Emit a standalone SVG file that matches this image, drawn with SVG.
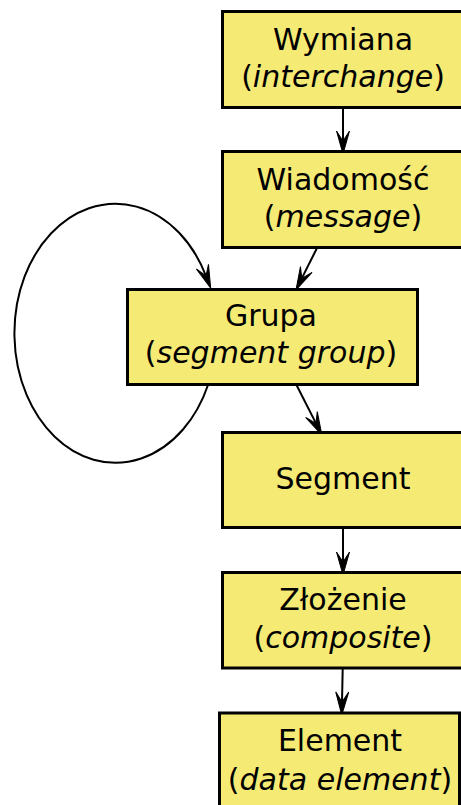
<svg xmlns="http://www.w3.org/2000/svg" width="461" height="805" viewBox="0 0 461 805">
<style>
.box{fill:#f5ea74;stroke:#000;stroke-width:3}
.t{font-family:"DejaVu Sans",sans-serif;font-size:30px;fill:#000;text-anchor:middle}
.i{font-style:italic}
.e{fill:none;stroke:#000;stroke-width:2;marker-end:url(#ah)}
</style>
<defs>
<marker id="ah" markerUnits="userSpaceOnUse" markerWidth="26" markerHeight="16" viewBox="-11 -8 26 16" refX="0" refY="0" orient="auto">
<path d="M13,0 L-10,-6.5 L0,0 L-10,6.5 z" fill="#000" stroke="#000" stroke-width="1"/>
</marker>
</defs>
<rect width="461" height="805" fill="#fff"/>
<g id="edges">
<path class="e" d="M343,107 L343,141"/>
<path class="e" d="M317,248 L301.8,278.4"/>
<path class="e" d="M296.5,385 L316,423.4"/>
<path class="e" d="M343,527 L343,562"/>
<path class="e" d="M342.7,668 L342,702"/>
<path class="e" d="M208,385 A101,129.5 0 1 1 206,276"/>
</g>
<g id="wymiana">
<rect class="box" x="222.5" y="11.5" width="242" height="96"/>
<text class="t" x="343" y="50">Wymiana</text>
<text class="t" x="343" y="87">(<tspan class="i">interchange</tspan>)</text>
</g>
<g id="wiadomosc">
<rect class="box" x="222.5" y="151.5" width="242" height="96"/>
<text class="t" x="343" y="190">Wiadomość</text>
<text class="t" x="343" y="227">(<tspan class="i">message</tspan>)</text>
</g>
<g id="grupa">
<rect class="box" x="127.5" y="289.5" width="290" height="95"/>
<text class="t" x="271" y="326">Grupa</text>
<text class="t" x="271" y="363">(<tspan class="i">segment group</tspan>)</text>
</g>
<g id="segment">
<rect class="box" x="222.5" y="432.5" width="242" height="95"/>
<text class="t" x="343" y="489">Segment</text>
</g>
<g id="zlozenie">
<rect class="box" x="222.5" y="572.5" width="242" height="95.5"/>
<text class="t" x="343" y="610">Złożenie</text>
<text class="t" x="343" y="648">(<tspan class="i">composite</tspan>)</text>
</g>
<g id="element">
<rect class="box" x="219.5" y="713" width="240" height="100"/>
<text class="t" x="340" y="751">Element</text>
<text class="t" x="340" y="790">(<tspan class="i">data element</tspan>)</text>
</g>
</svg>
